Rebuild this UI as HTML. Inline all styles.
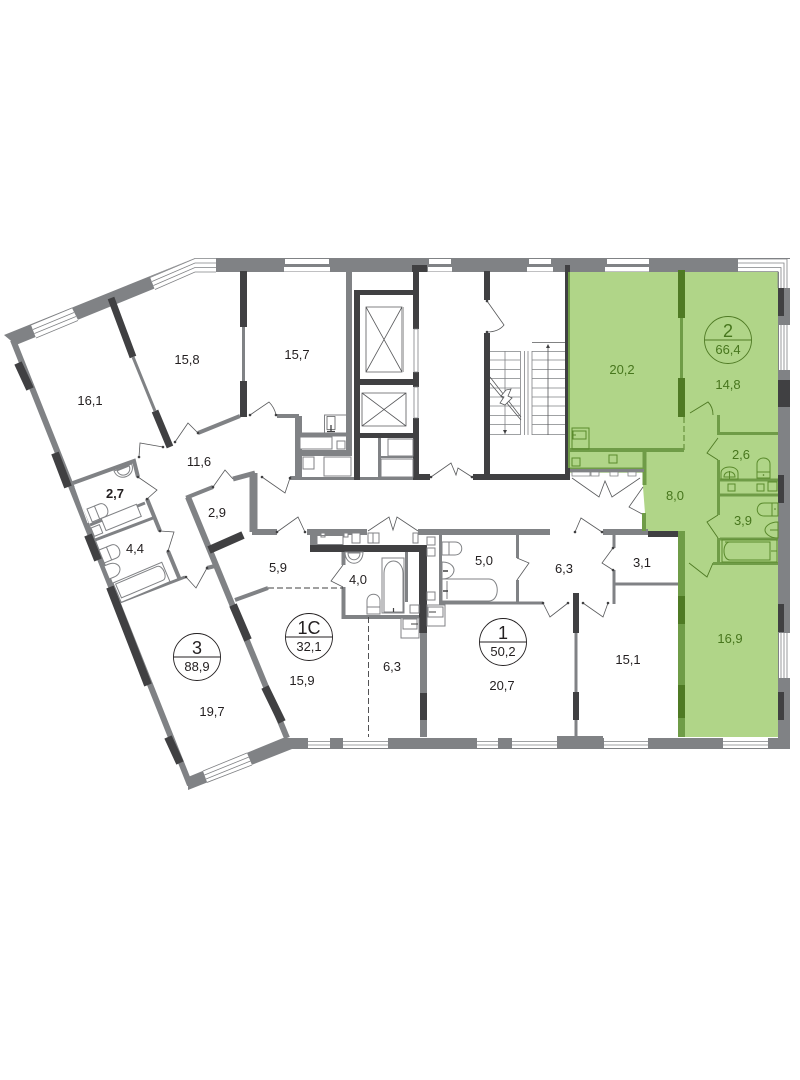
<!DOCTYPE html>
<html><head><meta charset="utf-8"><style>
html,body{margin:0;padding:0;background:#fff}
svg{display:block}
text{font-family:"Liberation Sans",sans-serif;font-size:13px;text-anchor:middle;fill:#231f20}
.g text{fill:#47761d}
.big{font-size:18px}
.w{fill:none;stroke:#808285}
.d{fill:none;stroke:#404042}
.gw{fill:none;stroke:#6f9c47}
.gd{fill:none;stroke:#4f7a24}
.t{fill:none;stroke:#58595b;stroke-width:.8}
.l{fill:none;stroke:#808285;stroke-width:.8}
.tg{fill:none;stroke:#4f7a24;stroke-width:.9}
.f{fill:#fff;stroke:#808285;stroke-width:1}
.fg{fill:none;stroke:#5a8a2c;stroke-width:1}
</style></head><body>
<svg width="800" height="1080" viewBox="0 0 800 1080" xmlns="http://www.w3.org/2000/svg">
<rect width="800" height="1080" fill="#fff"/>
<path d="M570 272H778V737H685V531H645V513L643 487V468H570Z" fill="#b0d588"/>

<!-- outer walls -->
<path fill="#808285" d="M4 335L195 258H790V749H292L188 790L188 777L283 738H778V272H195L16 345Z"/>
<path class="w" stroke-width="6" d="M13 340L190 785"/>
<path class="w" stroke-width="6" d="M188 497L287 738"/>

<!-- windows top-left -->
<path fill="#fff" d="M150 277L195 258H216V272H195L155 290Z"/>
<path class="l" d="M150 277.500L195 258.500H216M152 281.500L195 263H216M153.500 285.500L195 267.500H216M155 289.500L195 272H216"/>
<path fill="#fff" d="M31 325L72 308L78 320L36 338Z"/>
<path class="l" d="M31 325L72 308M33 329.500L74 312.500M34.500 333.500L76 316.500M36 338L78 320.500"/>
<!-- window bottom-left -->
<path fill="#fff" d="M203 771L247 753L252 765L207 782Z"/>
<path class="l" d="M203 771L247 753M204.500 775L249 757M206 779L250.500 761M207 782.500L252 765"/>

<!-- straight windows -->
<g fill="#fff">
<rect x="285" y="259" width="44" height="5"/><rect x="284" y="267" width="46" height="4.500"/>
<rect x="429" y="259" width="22" height="5"/><rect x="428" y="267" width="24" height="4.500"/>
<rect x="529" y="259" width="22" height="5"/><rect x="527" y="267" width="26" height="4.500"/>
<rect x="607" y="259" width="42" height="5"/><rect x="605" y="267" width="44" height="4.500"/>
<rect x="738" y="259" width="49" height="13"/>
<rect x="779" y="259" width="11" height="29"/>
<rect x="779" y="325" width="11" height="45"/>
<rect x="779" y="633" width="11" height="45"/>
<rect x="308" y="738" width="22" height="10"/><rect x="343" y="738" width="45" height="10"/>
<rect x="477" y="738" width="21" height="10"/><rect x="512" y="738" width="45" height="10"/>
<rect x="604" y="738" width="44" height="10"/><rect x="723" y="738" width="45" height="10"/>
</g>
<path class="l" d="M738 259H787V288M738 263H784V288M738 267.500H781V288M738 271.500H778V288M784 325V370M781 325V370M787 325V370M784 633V678M781 633V678M787 633V678
M308 741.500H330M308 745H330M343 741.500H388M343 745H388M477 741.500H498M477 745H498M512 741.500H557M512 745H557M604 741.500H648M604 745H648M723 741.500H768M723 745H768"/>
<path fill="#808285" d="M557 736H603V738H557Z"/>

<!-- left wall dark -->
<path class="d" stroke-width="8" d="M18 363L30 389M55 453L68 487M88 535L98 560M110 587L148 685M168 737L180 763"/>
<!-- right diagonal dark -->
<path class="d" stroke-width="8" d="M233 605L248 640M265 687L282 722M209 550L243 535"/>
<!-- right wall dark -->
<path fill="#404042" d="M778 288h6v28h-6zM778 380h12v27h-12zM778 475h6v28h-6zM778 604h6v28h-6zM778 692h6v28h-6z"/>

<!-- diagonal 16.1 / 15.8 -->
<path class="d" stroke-width="7" d="M111 298L133 357M155 411L170 447"/>
<path class="w" stroke-width="3" d="M133 357L155 411"/>
<!-- vertical 243 -->
<path class="d" stroke-width="7" d="M243.500 271V327M243.500 381V417"/>
<path class="w" stroke-width="3" d="M243.500 327V381"/>

<!-- gray partitions -->
<g class="w" stroke-width="4">
<path d="M198 433L240 416M277 416H297V478H290M73 483L134 461L138 477M147 499L160 531M168 551L180 580M213 487L188 497L208 545M207 568L215 566M235 600L268 588"/>
<path d="M90 525L145 503M95 540L153 518M120 602L185 577" stroke-width="3"/>
<path d="M233 479L255 473" stroke-width="5"/>
<path d="M253.500 473V532" stroke-width="8"/>
<path d="M252 532H277" stroke-width="6"/>
<path d="M307 532H367M418 532H550M603 532H648" stroke-width="6"/>
<path d="M313.500 530V548" stroke-width="7"/>
<path d="M343.500 552V565M343.500 587V617H420" stroke-width="4"/>
<path d="M406.500 552V602M440.500 535V603H543M517.500 535V558M517.500 580V603" stroke-width="3"/>
<path d="M614 535V548M614 570V604M615 584H678" stroke-width="3"/>
<path d="M423.500 633V737" stroke-width="7"/>
<path d="M576 633V692M576 720V737" stroke-width="3"/>
<path d="M349 272V456" stroke-width="6"/>
<path d="M298 434.500H352" stroke-width="4"/>
<path d="M300 453H352" stroke-width="6"/>
<path d="M299 416V480" stroke-width="6"/>
<path d="M300 478.500H413" stroke-width="3"/>
<path d="M379.500 438V478" stroke-width="3"/>
<path d="M381 457H413" stroke-width="2"/>
</g>
<!-- dark core walls -->
<g fill="#404042">
<rect x="354" y="290" width="6" height="190"/>
<rect x="354" y="290" width="65" height="5"/>
<rect x="413" y="265" width="6" height="64"/>
<rect x="412" y="265" width="15" height="7"/>
<rect x="413" y="372" width="6" height="15"/>
<rect x="413" y="418" width="6" height="60"/>
<rect x="354" y="379" width="65" height="6"/>
<rect x="354" y="433" width="65" height="5"/>
<rect x="413" y="474" width="17" height="6"/>
<rect x="484" y="271" width="6" height="29"/>
<rect x="484" y="333" width="6" height="144"/>
<rect x="473" y="474" width="97" height="6"/>
<rect x="565" y="265" width="5" height="215"/>
<rect x="310" y="545" width="113" height="7"/>
<rect x="419" y="545" width="8" height="88"/>
<rect x="420" y="693" width="7" height="27"/>
<rect x="573" y="593" width="6" height="40"/>
<rect x="573" y="692" width="6" height="28"/>
<rect x="648" y="531" width="30" height="6"/>
</g>
<path fill="#fff" stroke="#808285" stroke-width=".8" d="M414 329h4v43h-4zM414 387h4v31h-4z"/>

<!-- elevators -->
<path class="t" d="M366 307h36v65h-36zM366 307L402 372M402 307L366 372M362 393h44v33h-44zM362 393L406 426M406 393L362 426"/>
<path fill="none" stroke="#bbb" d="M403.500 307V372"/>
<!-- shaft boxes -->
<path class="f" d="M324.500 415h22v18h-22zM300 437h32v12h-32zM337 441h8v8h-8zM303 457h11v12h-11zM324 457h27v19h-27zM388 439h25v17h-25zM381 459h32v18h-32z"/>
<path class="t" stroke-width="1" d="M327 416.500h8v13h-8z"/>
<path class="d" stroke-width="1.300" d="M331 425v7M327 431.500h8"/>

<!-- stairs -->
<path class="l" d="M490 351.500H520M490 360H520M490 369.500H520M490 378.500H520M490 388H520M490 397H520M490 406H520M490 415.500H520M490 424.500H520M490 434.500H520
M532 351.500H565M532 360H565M532 369.500H565M532 378.500H565M532 388H565M532 397H565M532 406H565M532 415.500H565M532 424.500H565M532 434.500H565
M520.500 351V435M524.500 351V435M528 351V435M532 351V435M505 351V435"/>
<path class="t" d="M532 342.500H565M548 346V435M490 377L521 417M490 383L521 420"/>
<path fill="#404042" d="M548 344l-2 4h4zM505 434l-2-4h4z"/>
<path fill="#fff" stroke="#58595b" stroke-width=".8" d="M506 390L511 389L508 396L512 398L505 405L500 403L504 397L501 396Z"/>

<!-- doors -->
<path class="t" d="M163 447L140 443L139 457M175 442L188 423L198 433M250 415L269 402C272 405 275 410 276 415M138 477L157 490L147 499M160 531L174 532L168 551M186 577L196 588L207 568M213 487L225 470L233 479M262 477L285 493L290 478M277 532L298 517L305 532M368 531L389 517L393 530L397 517L418 531M431 477L451 463L456 475L458 468L472 477M487 301L504 325C500 330 494 332 487 332M343 565L331 581L343 587M517 558L529 563L517 580M543 603L550 617L568 603M583 603L603 617L608 603M575 532L581 518L602 532M613 548L602 563L613 570M572 478L599 497L605 481L612 497L640 478"/>
<path class="tg" d="M690 413L708 402C711 405 713 410 713 415M718 438L707 453L718 460M718 515L707 522L718 538M689 563L707 577L713 563"/>
<path class="t" stroke="#404042" d="M643 487L629 507L644 515"/>
<g fill="#404042">
<circle cx="163" cy="447" r="1.300"/><circle cx="175" cy="442" r="1.300"/><circle cx="198" cy="433" r="1.300"/><circle cx="250" cy="415" r="1.300"/><circle cx="276" cy="415" r="1.300"/><circle cx="139" cy="457" r="1.300"/><circle cx="138" cy="477" r="1.300"/><circle cx="147" cy="499" r="1.300"/><circle cx="160" cy="531" r="1.300"/><circle cx="168" cy="551" r="1.300"/><circle cx="186" cy="577" r="1.300"/><circle cx="207" cy="568" r="1.300"/><circle cx="213" cy="487" r="1.300"/><circle cx="262" cy="477" r="1.300"/><circle cx="290" cy="478" r="1.300"/><circle cx="277" cy="532" r="1.300"/><circle cx="305" cy="532" r="1.300"/><circle cx="431" cy="477" r="1.300"/><circle cx="472" cy="477" r="1.300"/><circle cx="487" cy="301" r="1.300"/><circle cx="487" cy="332" r="1.300"/><circle cx="543" cy="603" r="1.300"/><circle cx="568" cy="603" r="1.300"/><circle cx="583" cy="603" r="1.300"/><circle cx="608" cy="603" r="1.300"/><circle cx="575" cy="532" r="1.300"/><circle cx="602" cy="532" r="1.300"/><circle cx="613" cy="548" r="1.300"/><circle cx="613" cy="570" r="1.300"/>
</g>

<!-- dashed -->
<path fill="none" stroke="#404042" stroke-width=".9" stroke-dasharray="6 3" d="M268 588H343M368.500 617V737"/>
<path fill="none" stroke="#4f7a24" stroke-width=".9" stroke-dasharray="6 3" d="M684 417V450"/>

<!-- green walls -->
<path class="gw" stroke-width="4" d="M570 450H684M644.500 450V485M644 513V531"/>
<path class="gw" stroke-width="5" d="M570 470H646"/>
<path class="gw" stroke-width="7" d="M681.500 531V737"/>
<path class="gw" stroke-width="3" d="M681.500 318V378M718.500 415V435M718 433.500H778M718.500 460V515M718.500 538V563M713 563.500H778M720 480H778M720 495H778M720 539H778"/>
<path class="gw" stroke-width="5" d="M567.500 272V468"/>
<path fill="#404042" d="M565 265h3v215h-3z"/>
<path class="gd" stroke-width="7" d="M681.500 270V318M681.500 378V417M681.500 596V624M681.500 685V718"/>
<!-- corridor small rects -->
<path fill="#fff" stroke="#808285" stroke-width=".8" d="M572 472h18v4h-18zM591 472h8v4h-8zM610 472h8v4h-8zM628 472h8v4h-8z"/>
<rect x="570" y="469" width="74" height="3" fill="#808285"/>

<!-- green fixtures -->
<path class="fg" d="M572 428h17v21h-17zM573 431h13v8h-13zM572 435h4M572 458h8v8h-8zM609 455h8v8h-8zM728 484h7v7h-7zM757 484h7v7h-7zM768 482h9v9h-9zM722 540h55v22h-55zM725 542h45v18h-40c-8 0-8-18 0-18zM771 551h6"/>
<path class="fg" d="M757 478V464c0-8 13-8 13 0v14zM757 472h13M721 479v-6c0-8 17-8 17 0v6zM724 477c0-7 11-7 11 0zM729.500 471v8M778 503h-14c-9 0-9 13 0 13h14zM772 503v13M778 522c-9 0-13 5-13 8s4 8 13 8zM770 530h8"/>
<circle cx="775" cy="509" r=".8" fill="#4f7a24"/><circle cx="763.500" cy="475" r=".8" fill="#4f7a24"/>

<!-- center bathrooms -->
<path class="f" d="M382 558h22v55h-22zM384 573a9.500 12 0 0 1 19 0v39h-19z"/>
<path class="d" stroke-width="1.200" d="M393.500 608v4M354 552v8"/>
<path class="f" d="M367 614V601c0-9 13-9 13 0v13zM367 607h13"/>
<path class="f" d="M345 552h18c0 15-18 15-18 0zM348 553h12c0 9-12 9-12 0z"/>
<path class="f" d="M410 605h9v8h-9zM401 618h18v20h-18zM403 619h14v10h-14zM427 605h18v21h-18zM428 607h15v10h-15z"/>
<path class="d" stroke-width="1" d="M411 624h7M429 612h7"/>
<path class="f" d="M317 535.500h26v9h-26zM321 533h4v4h-4zM344 533h4v4h-4zM352 533h8v10h-8zM368 533h11v10h-11zM373 533v10M413 533h5v10h-5zM427 537h8v8h-8zM427 548h8v8h-8zM427 592h8v8h-8z"/>
<!-- room 5.0 -->
<path class="f" d="M442 542h13c9 0 9 13 0 13h-13zM449 542v13M442 562c11 0 12 7 12 8s-1 9-12 9zM442 579h47c11 0 11 22 0 22h-47zM447 581v18"/>
<path class="d" stroke-width="1.500" d="M443 571h5M443 591h5"/>

<!-- left bathrooms -->
<g transform="translate(113 583) rotate(-23)"><path class="f" d="M0 0h53v21h-53zM2 2h45c6 0 6 15 0 15h-45z"/></g>
<g transform="translate(87 509) rotate(-22)"><path class="f" d="M0 0h8v14h-8zM8 0h5c8 0 8 14 0 14h-5z"/></g>
<g transform="translate(99 550) rotate(-22)"><path class="f" d="M0 0h8v14h-8zM8 0h5c8 0 8 14 0 14h-5z"/></g>
<g transform="translate(104 566) rotate(-22)"><path class="f" d="M0 0h5c7 0 9 5 9 7s-2 7-9 7h-5z"/></g>
<g transform="translate(114 471) rotate(-22)"><path class="f" d="M0 0h19c0 13-19 13-19 0zM3 1h13c0 9-13 9-13 0z"/></g>
<g transform="translate(91 528) rotate(-22)"><path class="f" d="M0 0h9v9h-9zM13 -5h38v13h-38z"/></g>
<path fill="none" stroke="#fff" stroke-width="1" d="M75 487L88 523"/>

<!-- circles -->
<g fill="none" stroke="#231f20" stroke-width=".9">
<circle cx="197" cy="657" r="23.500"/><path d="M173.500 657H220.500"/>
<circle cx="309" cy="637" r="23.500"/><path d="M285.500 637H332.500"/>
<circle cx="503" cy="642" r="23.500"/><path d="M479.500 642H526.500"/>
</g>
<g fill="none" stroke="#4f7a24" stroke-width=".9">
<circle cx="728" cy="340" r="23.500"/><path d="M704.500 340H751.500"/>
</g>

<!-- labels -->
<text x="90" y="405">16,1</text>
<text x="187" y="364">15,8</text>
<text x="297" y="359">15,7</text>
<text x="199" y="466">11,6</text>
<text x="115" y="498" style="font-weight:bold">2,7</text>
<text x="217" y="517">2,9</text>
<text x="135" y="553">4,4</text>
<text x="278" y="572">5,9</text>
<text x="358" y="584">4,0</text>
<text x="484" y="565">5,0</text>
<text x="564" y="573">6,3</text>
<text x="642" y="567">3,1</text>
<text x="628" y="664">15,1</text>
<text x="502" y="690">20,7</text>
<text x="392" y="671">6,3</text>
<text x="302" y="685">15,9</text>
<text x="212" y="716">19,7</text>
<text class="big" x="197" y="654">3</text><text x="197" y="671">88,9</text>
<text class="big" x="309" y="634">1C</text><text x="309" y="651">32,1</text>
<text class="big" x="503" y="639">1</text><text x="503" y="656">50,2</text>
<g class="g">
<text x="622" y="374">20,2</text>
<text x="728" y="389">14,8</text>
<text x="741" y="459">2,6</text>
<text x="675" y="500">8,0</text>
<text x="743" y="525">3,9</text>
<text x="730" y="643">16,9</text>
<text class="big" x="728" y="337">2</text><text x="728" y="354">66,4</text>
</g>
</svg>
</body></html>
